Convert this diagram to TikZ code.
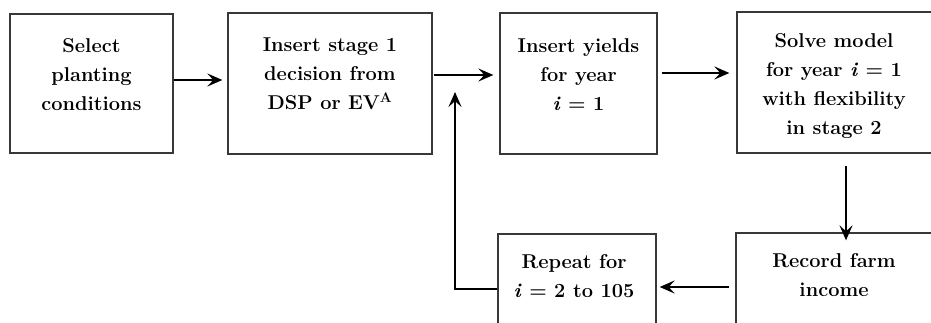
\documentclass[tikz,border=0pt]{standalone}
\usepackage{fontspec}
\setmainfont{Latin Modern Roman}
\usetikzlibrary{arrows.meta,calc}
\begin{document}
\begin{tikzpicture}[x=1pt,y=1pt,
  box/.style={draw=black!78,line width=1.3pt,rectangle,inner sep=0pt},
  txt/.style={anchor=north,inner sep=0pt,align=center,font=\fontsize{20}{29}\selectfont\bfseries},
  arr/.style={line width=2.8pt,-{Stealth[length=15pt,width=13pt,inset=6pt]}}]
\useasboundingbox (0,0) rectangle (931,-323);
\begin{scope}
\clip (0,0) rectangle (931,-323);
\node[box,minimum width=163pt,minimum height=139pt] (b1) at (91.5,-83.5) {};
\node[box,minimum width=204pt,minimum height=141pt] (b2) at (330,-83.5) {};
\node[box,minimum width=157pt,minimum height=141pt] (b3) at (578.5,-83.5) {};
\node[box,minimum width=198pt,minimum height=141pt] (b4) at (836,-82.5) {};
\node[box,minimum width=199pt,minimum height=102pt] (b5) at (835.5,-284) {};
\node[box,minimum width=158pt,minimum height=101pt] (b6) at (577,-284.5) {};
\end{scope}
\node[txt] (t1) at (91.5,-38) {Select\\planting\\conditions};
\node[txt] (t2) at (330,-38) {Insert stage 1\\decision from\\DSP or EV\textsuperscript{A}};
\node[txt] (t3) at (578.5,-38) {Insert yields\\for year\\\textit{i} = 1};
\node[txt] (t4) at (834,-33) {Solve model\\for year \textit{i} = 1\\with flexibility\\in stage 2};
\node[txt] (t5) at (834,-253) {Record farm\\income};
\node[txt] (t6) at (574,-254) {Repeat for\\\textit{i} = 2 to 105};
\coordinate (loopend) at (455,-92);
\draw[arr] (b1.east |- 0,-80) -- ([xshift=-5pt]b2.west |- 0,-80);
\draw[arr] ([xshift=1pt]b2.east |- 0,-75) -- ([xshift=-6pt]b3.west |- 0,-75);
\draw[arr] ([xshift=4pt]b3.east |- 0,-73) -- ([xshift=-7pt]b4.west |- 0,-73);
\draw[arr] ($(b4.south)+(10,-12)$) -- ($(b5.north)+(10.5,-8)$);
\draw[arr] ([xshift=-6pt]b5.west |- 0,-287) -- ([xshift=3pt]b6.east |- 0,-287);
\draw[arr] (b6.west |- 0,-289) -| (loopend);
\end{tikzpicture}
\end{document}
